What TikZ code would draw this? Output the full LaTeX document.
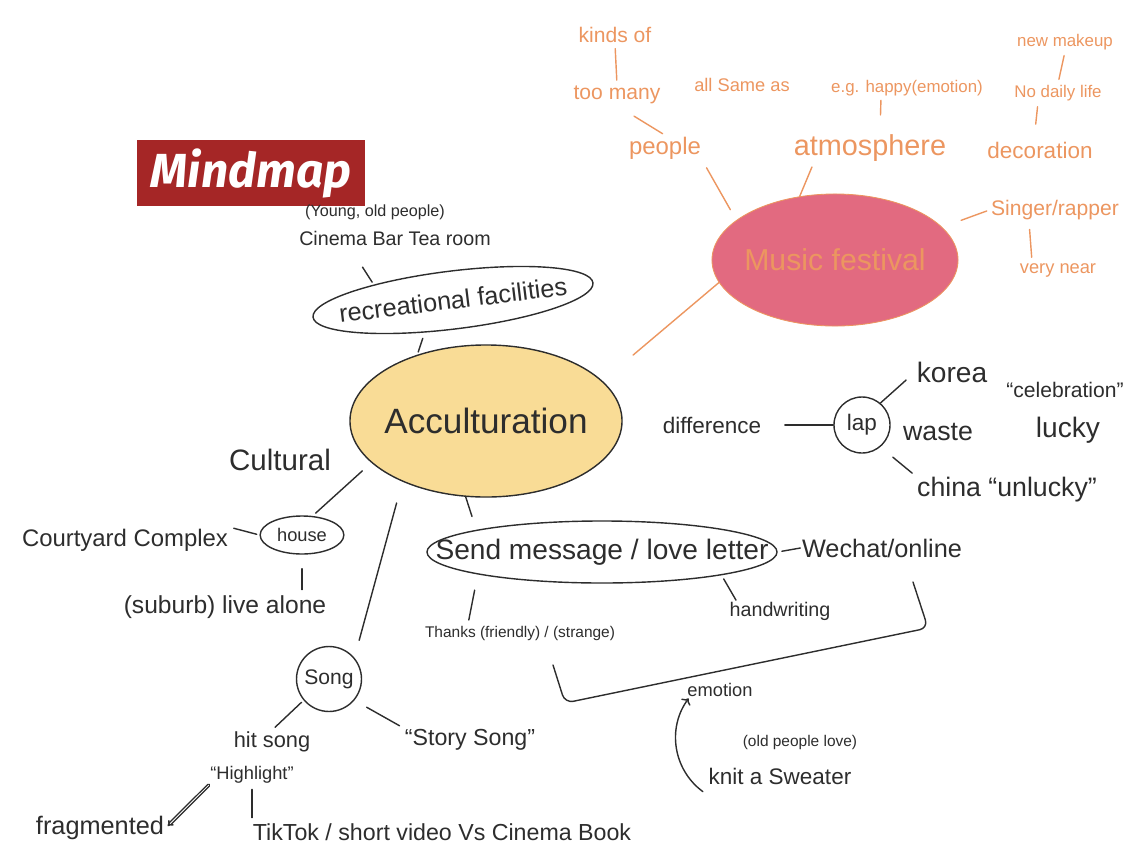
\documentclass[tikz,border=0pt]{standalone}
\usepackage{fontspec}
\setmainfont{Liberation Sans}
\newfontfamily\bannerfont{Fira Sans}
\usetikzlibrary{shapes.geometric,arrows.meta}
\definecolor{inkgray}{RGB}{45,45,45}
\definecolor{festorange}{RGB}{236,150,96}
\definecolor{festpink}{RGB}{226,106,128}
\definecolor{accyellow}{RGB}{249,220,150}
\definecolor{bannerred}{RGB}{165,38,38}
\newcommand{\hsz}[1]{\fontsize{#1}{#1}\selectfont}

\begin{document}
\begin{tikzpicture}[x=0.025cm,y=-0.025cm,line cap=round,line join=round,
  ink/.style={line width=1.pt,draw=inkgray},
  orng/.style={line width=1.pt,draw=festorange},
  btxt/.style={text=inkgray,inner sep=1pt},
  otxt/.style={text=festorange,inner sep=1pt}]

\useasboundingbox (0,0) rectangle (1140,856);

\node[fill=bannerred,minimum width=5.7cm,minimum height=1.625cm,text=white,font=\bannerfont\bfseries\itshape\hsz{34}] (title) at (251,173) {Mindmap};

\node[ink,ellipse,fill=accyellow,minimum width=6.8cm,minimum height=3.8cm] (acc) at (486,421) {};
\node[btxt,font=\hsz{25}] (acctxt) at (acc) {Acculturation};
\node[ellipse,draw=festorange,line width=0.6pt,fill=festpink,minimum width=6.15cm,minimum height=3.3cm] (mus) at (835,260) {};
\node[otxt,font=\hsz{21.5}] (mustxt) at (mus) {Music festival};
\node[ink,ellipse,minimum width=7.05cm,minimum height=1.45cm,rotate=7] (rec) at (453,300) {};
\node[btxt,rotate=7,font=\hsz{18}] (rectxt) at (rec) {recreational facilities};
\node[ink,ellipse,minimum width=8.75cm,minimum height=1.55cm] (send) at (602,552) {};
\node[btxt,font=\hsz{20}] (sendtxt) at (send) {Send message / love letter};
\node[ink,ellipse,minimum width=2.05cm,minimum height=0.95cm,text=inkgray,font=\hsz{13}] (house) at (302,535) {house};
\node[ink,circle,minimum size=1.4cm,text=inkgray,font=\hsz{16}] (lap) at (862,425) {lap};
\node[ink,circle,minimum size=1.55cm,text=inkgray,font=\hsz{15}] (song) at (329,679) {Song};

\node[otxt,font=\hsz{15}] (kinds) at (615,35) {kinds of};
\node[otxt,font=\hsz{15}] (toomany) at (617,95) {too many};
\node[otxt,font=\hsz{13}] (allsame) at (742,85) {all Same as};
\node[otxt,font=\hsz{12}] (eg) at (907,88) {e.g. happy(emotion)};
\node[otxt,font=\hsz{12}] (newmk) at (1065,42) {new makeup};
\node[otxt,font=\hsz{12}] (nodaily) at (1058,93) {No daily life};
\node[otxt,font=\hsz{17}] (people) at (665,148) {people};
\node[otxt,font=\hsz{20.5}] (atmos) at (870,148) {atmosphere};
\node[otxt,font=\hsz{16}] (decor) at (1040,150) {decoration};
\node[otxt,font=\hsz{15}] (singer) at (1055,210) {Singer/rapper};
\node[otxt,font=\hsz{13}] (verynear) at (1058,270) {very near};

\node[btxt,font=\hsz{11.5}] (young) at (375,212) {(Young, old people)};
\node[btxt,font=\hsz{14}] (cinema) at (395,238) {Cinema Bar Tea room};
\node[btxt,font=\hsz{16}] (diff) at (712,425) {difference};
\node[btxt,font=\hsz{20}] (korea) at (952,372) {korea};
\node[btxt,font=\hsz{19}] (waste) at (938,432) {waste};
\node[btxt,font=\hsz{15}] (celeb) at (1065,390) {``celebration''};
\node[btxt,font=\hsz{20}] (lucky) at (1068,430) {lucky};
\node[btxt,font=\hsz{19}] (china) at (1007,490) {china ``unlucky''};
\node[btxt,font=\hsz{21}] (cultural) at (280,460) {Cultural};
\node[btxt,font=\hsz{17}] (courtyard) at (125,540) {Courtyard Complex};
\node[btxt,font=\hsz{17.5}] (suburb) at (225,607) {(suburb) live alone};
\node[btxt,font=\hsz{11}] (thanks) at (520,633) {Thanks (friendly) / (strange)};
\node[btxt,font=\hsz{14}] (handw) at (780,611) {handwriting};
\node[btxt,font=\hsz{18}] (wechat) at (882,548) {Wechat/online};
\node[btxt,font=\hsz{13}] (emotion) at (720,690) {emotion};
\node[btxt,font=\hsz{11}] (oldppl) at (800,742) {(old people love)};
\node[btxt,font=\hsz{16}] (knit) at (780,776) {knit a Sweater};
\node[btxt,font=\hsz{15.5}] (hitsong) at (272,742) {hit song};
\node[btxt,font=\hsz{13}] (highlight) at (252,775) {``Highlight''};
\node[btxt,font=\hsz{16.5}] (story) at (470,740) {``Story Song''};
\node[btxt,font=\hsz{18}] (frag) at (100,828) {fragmented};
\node[btxt,font=\hsz{16.5}] (tiktok) at (442,832) {TikTok / short video Vs Cinema Book};

\coordinate (brR) at (913,582);
\coordinate (brL) at (553,665);

\draw[orng,shorten <=1cm] (acc.19) -- (mus.191);
\draw[orng,shorten <=0.2cm,shorten >=0.3cm] (people.south east) -- (mus.158);
\draw[orng,shorten <=3pt] (atmos.-165) -- (mus.119);
\draw[orng,shorten <=3pt,shorten >=3pt] (kinds.south) -- (toomany.north);
\draw[orng,shorten <=0.5cm,shorten >=2pt] (toomany.south) -- (people.north);
\draw[orng,shorten <=2pt,shorten >=0.45cm] ([xshift=-0.65cm]eg.south) -- ([xshift=0.25cm]atmos.north);
\draw[orng,shorten <=3pt,shorten >=3pt] (newmk.south) -- (nodaily.north);
\draw[orng,shorten <=3pt,shorten >=0.4cm] ([xshift=-0.5cm]nodaily.south) -- ([xshift=-0.15cm]decor.north);
\draw[orng,shorten >=0.5cm,shorten <=2pt] (singer.west) -- (mus.17);
\draw[orng,shorten <=0.2cm,shorten >=3pt] ([xshift=-0.65cm]singer.south) -- ([xshift=-0.65cm]verynear.north);

\draw[ink,shorten <=0.6cm,shorten >=2pt] (cinema.south west) ++(1.3cm,0) -- (rec.162);
\draw[ink,shorten <=0.15cm,shorten >=2pt] (rec.222) -- (acc.136);
\draw[ink,shorten <=0.55cm] (diff.east) -- (lap.west);
\draw[ink,shorten >=0.3cm] (lap.50) -- (korea.west);
\draw[ink,shorten <=0.4cm,shorten >=3pt] (lap.-50) -- (china.north west);
\draw[ink,shorten <=0.3cm,shorten >=3pt] (acc.200) -- (house.61);
\draw[ink,shorten <=3pt,shorten >=2pt] (courtyard.north east) -- (house.west);
\draw[ink,shorten <=0.35cm,shorten >=3pt] (house.south) -- (house.south |- suburb.north);
\draw[ink,shorten <=0.55cm,shorten >=0.45cm] (acc.216) -- (song.40);
\draw[ink,shorten <=2pt,shorten >=3pt] (song.220) -- (hitsong.north);
\draw[ink,shorten <=0.35cm,shorten >=3pt] (song.-40) -- (story.north west);
\draw[ink,shorten <=3pt,shorten >=3pt] (highlight.south) -- (highlight.south |- tiktok.north);
\draw[ink,double,-Implies,shorten >=2pt] (highlight.south west) -- (frag.east);
\draw[ink,shorten >=0.35cm] (acc.255) -- (send.170);
\draw[ink,shorten <=3pt] (send.east) -- (wechat.west);
\draw[ink,shorten <=0.4cm,shorten >=3pt] (send.south west) -- ([xshift=-1.3cm]thanks.north);
\draw[ink,shorten <=3pt] (send.-11) -- ([xshift=-1.1cm]handw.north);
\draw[ink,rounded corners=6pt] (brR) -- (928,628) -- (565,703) -- (brL);
\draw[ink,->] ([xshift=-3pt,yshift=-4pt]knit.south west) to[bend left=45] ([xshift=2pt]emotion.south west);

\end{tikzpicture}
\end{document}
